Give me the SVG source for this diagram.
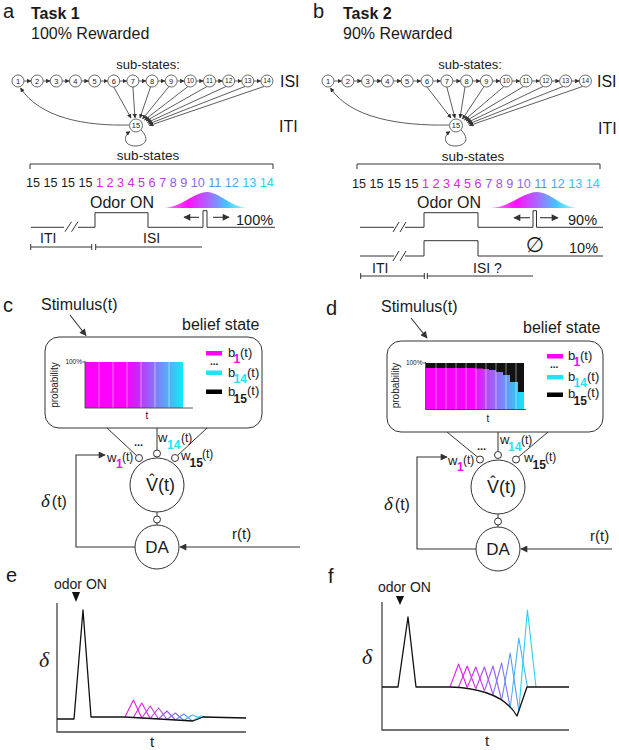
<svg xmlns="http://www.w3.org/2000/svg" width="619" height="750" viewBox="0 0 619 750">
<defs>
<style>
text{font-family:"Liberation Sans",Arial,Helvetica,sans-serif;fill:#1a1a1a}
.ln{stroke:#333;stroke-width:1;fill:none}
.ch{stroke:#333;stroke-width:0.8;fill:none;marker-end:url(#ms)}
.node{fill:#fff;stroke:#444;stroke-width:0.8}
.num{font-size:7.5px;text-anchor:middle}
.num2{font-size:6.6px;text-anchor:middle}
.big{stroke:#333;stroke-width:1.1;fill:none;marker-end:url(#ml)}
.nc{fill:#fff;stroke:#333;stroke-width:1}
.dl{font-family:"Liberation Serif","Times New Roman",serif;font-style:italic}
.crv{stroke:#111;stroke-width:1.3;fill:none;stroke-linejoin:round}
.zz{stroke-width:1.1;fill:none;stroke-linejoin:round}
.ax{stroke:#444;stroke-width:1.3;fill:none}
.sep{stroke:#fff;stroke-width:0.6;stroke-opacity:0.8}
</style>
<marker id="ms" viewBox="0 0 10 10" refX="9" refY="5" markerWidth="4.5" markerHeight="4.5" markerUnits="userSpaceOnUse" orient="auto"><path d="M0,0L10,5L0,10z" fill="#333"/></marker>
<marker id="ml" viewBox="0 0 10 10" refX="9" refY="5" markerWidth="8" markerHeight="7" markerUnits="userSpaceOnUse" orient="auto"><path d="M0,0L10,5L0,10z" fill="#333"/></marker>
<linearGradient id="gauss" x1="0" x2="1" y1="0" y2="0">
<stop offset="0" stop-color="#ff00ff" stop-opacity="0.5"/><stop offset="0.3" stop-color="#ff10ff"/><stop offset="0.55" stop-color="#a070ff"/><stop offset="0.75" stop-color="#40c8ff"/><stop offset="1" stop-color="#40e8ff" stop-opacity="0.4"/>
</linearGradient>
<linearGradient id="gc" gradientUnits="userSpaceOnUse" x1="85" x2="183" y1="0" y2="0">
<stop offset="0" stop-color="#ff00ff"/><stop offset="0.4" stop-color="#ff00ff"/><stop offset="0.52" stop-color="#d020f8"/><stop offset="0.66" stop-color="#9a60f8"/><stop offset="0.83" stop-color="#58a8f8"/><stop offset="1" stop-color="#10eaf8"/>
</linearGradient>
<linearGradient id="gd" gradientUnits="userSpaceOnUse" x1="426" x2="524" y1="0" y2="0">
<stop offset="0" stop-color="#ff00ff"/><stop offset="0.5" stop-color="#f608ff"/><stop offset="0.62" stop-color="#b848f8"/><stop offset="0.78" stop-color="#7888f8"/><stop offset="0.9" stop-color="#40b8f8"/><stop offset="1" stop-color="#10eaf8"/>
</linearGradient>
</defs>
<rect width="619" height="750" fill="#fff"/>

<!-- ============ PANEL A ============ -->
<g id="panel-a">
<text x="3" y="18" font-size="20">a</text>
<text x="31" y="19" font-size="16" font-weight="bold">Task 1</text>
<text x="31" y="39" font-size="16">100% Rewarded</text>
<text x="148" y="69" font-size="13" text-anchor="middle">sub-states:</text>
<text x="280" y="87" font-size="16">ISI</text>
<text x="279" y="132" font-size="16">ITI</text>
</g>

<g id="connectors-a">
<line class="ch" x1="24.2" y1="81" x2="30.95" y2="81"/>
<line class="ch" x1="43.35" y1="81" x2="50.1" y2="81"/>
<line class="ch" x1="62.5" y1="81" x2="69.25" y2="81"/>
<line class="ch" x1="81.65" y1="81" x2="88.4" y2="81"/>
<line class="ch" x1="100.8" y1="81" x2="107.55" y2="81"/>
<line class="ch" x1="119.95" y1="81" x2="126.7" y2="81"/>
<line class="ch" x1="139.1" y1="81" x2="145.85" y2="81"/>
<line class="ch" x1="158.25" y1="81" x2="165" y2="81"/>
<line class="ch" x1="177.4" y1="81" x2="184.15" y2="81"/>
<line class="ch" x1="196.55" y1="81" x2="203.3" y2="81"/>
<line class="ch" x1="215.7" y1="81" x2="222.45" y2="81"/>
<line class="ch" x1="234.85" y1="81" x2="241.6" y2="81"/>
<line class="ch" x1="254" y1="81" x2="260.75" y2="81"/>
<line class="ch" x1="113.75" y1="87" x2="131" y2="118"/>
<line class="ch" x1="132.9" y1="87" x2="135" y2="118"/>
<line class="ch" x1="150.5" y1="87" x2="140" y2="118"/>
<line class="ch" x1="169" y1="86.5" x2="142.5" y2="119"/>
<line class="ch" x1="188" y1="86.5" x2="144.5" y2="120"/>
<line class="ch" x1="207" y1="86.5" x2="146" y2="121"/>
<line class="ch" x1="226" y1="86.5" x2="147.5" y2="122.5"/>
<line class="ch" x1="245" y1="86.5" x2="148.5" y2="124"/>
<line class="ch" x1="264" y1="86.5" x2="149.5" y2="125.5"/>
<path class="ch" d="M129,125 C85,126 40,118 20.5,88"/>
<path class="ch" d="M141,130 C151,140 144,146 135,146 C125,146 122,137 130,131.5"/>
</g>

<g id="states-a">
<g id="a-s1"><circle class="node" cx="18" cy="81" r="6"/><text class="num" x="18" y="83.7" fill="#e01ee0">1</text></g>
<g id="a-s2"><circle class="node" cx="37.15" cy="81" r="6"/><text class="num" x="37.15" y="83.7" fill="#dc20e0">2</text></g>
<g id="a-s3"><circle class="node" cx="56.3" cy="81" r="6"/><text class="num" x="56.3" y="83.7" fill="#d824e0">3</text></g>
<g id="a-s4"><circle class="node" cx="75.45" cy="81" r="6"/><text class="num" x="75.45" y="83.7" fill="#d028e2">4</text></g>
<g id="a-s5"><circle class="node" cx="94.6" cy="81" r="6"/><text class="num" x="94.6" y="83.7" fill="#c82ee4">5</text></g>
<g id="a-s6"><circle class="node" cx="113.75" cy="81" r="6"/><text class="num" x="113.75" y="83.7" fill="#bc36e6">6</text></g>
<g id="a-s7"><circle class="node" cx="132.9" cy="81" r="6"/><text class="num" x="132.9" y="83.7" fill="#ac44e8">7</text></g>
<g id="a-s8"><circle class="node" cx="152.05" cy="81" r="6"/><text class="num" x="152.05" y="83.7" fill="#9c52ea">8</text></g>
<g id="a-s9"><circle class="node" cx="171.2" cy="81" r="6"/><text class="num" x="171.2" y="83.7" fill="#8c62ee">9</text></g>
<g id="a-s10"><circle class="node" cx="190.35" cy="81" r="6"/><text class="num2" x="190.35" y="83.4" fill="#7874f0">10</text></g>
<g id="a-s11"><circle class="node" cx="209.5" cy="81" r="6"/><text class="num2" x="209.5" y="83.4" fill="#628cf2">11</text></g>
<g id="a-s12"><circle class="node" cx="228.65" cy="81" r="6"/><text class="num2" x="228.65" y="83.4" fill="#4ca6f2">12</text></g>
<g id="a-s13"><circle class="node" cx="247.8" cy="81" r="6"/><text class="num2" x="247.8" y="83.4" fill="#36bef2">13</text></g>
<g id="a-s14"><circle class="node" cx="266.95" cy="81" r="6"/><text class="num2" x="266.95" y="83.4" fill="#22d4f0">14</text></g>
<g id="a-s15"><circle class="node" cx="136" cy="125.5" r="6.5"/><text class="num" x="136" y="128.2">15</text></g>
</g>

<g id="timeline-a">
<text x="148" y="160" font-size="13.5" text-anchor="middle">sub-states</text>
<path class="ln" d="M30,169 V164 H273 V169"/>
<text x="26" y="187" font-size="12.6">15 15 15 15 <tspan fill="#e01ee0">1</tspan> <tspan fill="#dc20e0">2</tspan> <tspan fill="#d824e0">3</tspan> <tspan fill="#d028e2">4</tspan> <tspan fill="#c82ee4">5</tspan> <tspan fill="#bc36e6">6</tspan> <tspan fill="#ac44e8">7</tspan> <tspan fill="#9c52ea">8</tspan> <tspan fill="#8c62ee">9</tspan> <tspan fill="#7874f0">10</tspan> <tspan fill="#628cf2">11</tspan> <tspan fill="#4ca6f2">12</tspan> <tspan fill="#36bef2">13</tspan> <tspan fill="#22d4f0">14</tspan></text>
<text x="90" y="208" font-size="16">Odor ON</text>
<path d="M163,208 C182,207.5 194,192 207,192 C220,192 230,207.5 249,208 Z" fill="url(#gauss)"/>
<path class="ln" d="M31,227.3 H64"/>
<path class="ln" d="M65,231.7 L71.5,221.7 M71.5,231.7 L78,221.7"/>
<path class="ln" d="M78,227.3 H95 V212.7 H148 V227.3 H203 V210.7 H207 V227.3 H275"/>
<line class="big" x1="199" y1="217.3" x2="184" y2="217.3"/>
<line class="big" x1="213" y1="217.3" x2="229" y2="217.3"/>
<text x="236" y="225" font-size="14.5">100%</text>
<text x="40" y="243" font-size="14">ITI</text>
<text x="143" y="243" font-size="14">ISI</text>
<path class="ln" d="M30.7,244 V250 M30.7,247 H91.7 M91.7,244 V250 M95.7,244 V250 M95.7,247 H202"/>
</g>

<!-- ============ PANEL B ============ -->
<g id="panel-b">
<text x="313" y="18" font-size="20">b</text>
<text x="343" y="19" font-size="16" font-weight="bold">Task 2</text>
<text x="343" y="39" font-size="16">90% Rewarded</text>
<text x="470" y="69" font-size="13" text-anchor="middle">sub-states:</text>
<text x="597" y="87" font-size="16">ISI</text>
<text x="598" y="134" font-size="16">ITI</text>
</g>

<g id="connectors-b">
<line class="ch" x1="334.2" y1="81" x2="341.6" y2="81"/>
<line class="ch" x1="354" y1="81" x2="361.4" y2="81"/>
<line class="ch" x1="373.8" y1="81" x2="381.2" y2="81"/>
<line class="ch" x1="393.6" y1="81" x2="401" y2="81"/>
<line class="ch" x1="413.4" y1="81" x2="420.8" y2="81"/>
<line class="ch" x1="433.2" y1="81" x2="440.6" y2="81"/>
<line class="ch" x1="453" y1="81" x2="460.4" y2="81"/>
<line class="ch" x1="472.8" y1="81" x2="480.2" y2="81"/>
<line class="ch" x1="492.6" y1="81" x2="500" y2="81"/>
<line class="ch" x1="512.4" y1="81" x2="519.8" y2="81"/>
<line class="ch" x1="532.2" y1="81" x2="539.6" y2="81"/>
<line class="ch" x1="552" y1="81" x2="559.4" y2="81"/>
<line class="ch" x1="571.8" y1="81" x2="579.2" y2="81"/>
<line class="ch" x1="427" y1="87" x2="451" y2="118"/>
<line class="ch" x1="446.8" y1="87" x2="455" y2="118"/>
<line class="ch" x1="465" y1="87" x2="460" y2="118"/>
<line class="ch" x1="484" y1="86.5" x2="462.5" y2="119"/>
<line class="ch" x1="504" y1="86.5" x2="464.5" y2="120"/>
<line class="ch" x1="523.5" y1="86.5" x2="466" y2="121"/>
<line class="ch" x1="543" y1="86.5" x2="467.5" y2="122.5"/>
<line class="ch" x1="563" y1="86.5" x2="468.5" y2="124"/>
<line class="ch" x1="582.5" y1="86.5" x2="469.5" y2="125.5"/>
<path class="ch" d="M449,125 C400,126 350,118 330.5,88"/>
<path class="ch" d="M461,130 C471,140 464,146 455,146 C445,146 442,137 450,131.5"/>
</g>

<g id="states-b">
<g id="b-s1"><circle class="node" cx="328" cy="81" r="6"/><text class="num" x="328" y="83.7" fill="#e01ee0">1</text></g>
<g id="b-s2"><circle class="node" cx="347.8" cy="81" r="6"/><text class="num" x="347.8" y="83.7" fill="#dc20e0">2</text></g>
<g id="b-s3"><circle class="node" cx="367.6" cy="81" r="6"/><text class="num" x="367.6" y="83.7" fill="#d824e0">3</text></g>
<g id="b-s4"><circle class="node" cx="387.4" cy="81" r="6"/><text class="num" x="387.4" y="83.7" fill="#d028e2">4</text></g>
<g id="b-s5"><circle class="node" cx="407.2" cy="81" r="6"/><text class="num" x="407.2" y="83.7" fill="#c82ee4">5</text></g>
<g id="b-s6"><circle class="node" cx="427" cy="81" r="6"/><text class="num" x="427" y="83.7" fill="#bc36e6">6</text></g>
<g id="b-s7"><circle class="node" cx="446.8" cy="81" r="6"/><text class="num" x="446.8" y="83.7" fill="#ac44e8">7</text></g>
<g id="b-s8"><circle class="node" cx="466.6" cy="81" r="6"/><text class="num" x="466.6" y="83.7" fill="#9c52ea">8</text></g>
<g id="b-s9"><circle class="node" cx="486.4" cy="81" r="6"/><text class="num" x="486.4" y="83.7" fill="#8c62ee">9</text></g>
<g id="b-s10"><circle class="node" cx="506.2" cy="81" r="6"/><text class="num2" x="506.2" y="83.4" fill="#7874f0">10</text></g>
<g id="b-s11"><circle class="node" cx="526" cy="81" r="6"/><text class="num2" x="526" y="83.4" fill="#628cf2">11</text></g>
<g id="b-s12"><circle class="node" cx="545.8" cy="81" r="6"/><text class="num2" x="545.8" y="83.4" fill="#4ca6f2">12</text></g>
<g id="b-s13"><circle class="node" cx="565.6" cy="81" r="6"/><text class="num2" x="565.6" y="83.4" fill="#36bef2">13</text></g>
<g id="b-s14"><circle class="node" cx="585.4" cy="81" r="6"/><text class="num2" x="585.4" y="83.4" fill="#22d4f0">14</text></g>
<g id="b-s15"><circle class="node" cx="456" cy="125.5" r="6.5"/><text class="num" x="456" y="128.2">15</text></g>
</g>

<g id="timeline-b">
<text x="473" y="161" font-size="13.5" text-anchor="middle">sub-states</text>
<path class="ln" d="M357,169 V164 H600 V169"/>
<text x="352" y="188" font-size="12.6">15 15 15 15 <tspan fill="#e01ee0">1</tspan> <tspan fill="#dc20e0">2</tspan> <tspan fill="#d824e0">3</tspan> <tspan fill="#d028e2">4</tspan> <tspan fill="#c82ee4">5</tspan> <tspan fill="#bc36e6">6</tspan> <tspan fill="#ac44e8">7</tspan> <tspan fill="#9c52ea">8</tspan> <tspan fill="#8c62ee">9</tspan> <tspan fill="#7874f0">10</tspan> <tspan fill="#628cf2">11</tspan> <tspan fill="#4ca6f2">12</tspan> <tspan fill="#36bef2">13</tspan> <tspan fill="#22d4f0">14</tspan></text>
<text x="417" y="208" font-size="16">Odor ON</text>
<path d="M490,208 C510,207.5 523,192 537,192 C551,192 560,207.5 579,208 Z" fill="url(#gauss)"/>
<path class="ln" d="M360,227.3 H394 M393,232 L399,222 M400,232 L406,222 M405,227.3 H424 V212.7 H478 V227.3 H533 V210.7 H536.5 V227.3 H603"/>
<line class="big" x1="530" y1="217.7" x2="514" y2="217.7"/>
<line class="big" x1="540" y1="217.7" x2="558" y2="217.7"/>
<text x="568" y="225" font-size="14.5">90%</text>
<path class="ln" d="M360,256 H394 M393,261 L399,251 M400,261 L406,251 M405,256 H424 V240.7 H478 V256 H603"/>
<text x="535" y="252" font-size="21" text-anchor="middle" style="font-family:'DejaVu Sans',sans-serif">∅</text>
<text x="569" y="253" font-size="14.5">10%</text>
<text x="372" y="273" font-size="14">ITI</text>
<text x="473" y="273" font-size="14">ISI ?</text>
<path class="ln" d="M360.7,273 V279 M360.7,276 H424.3 M424.3,273 V279 M427.3,273 V279 M427.3,276 H533"/>
</g>

<!-- ============ PANEL C ============ -->
<g id="panel-c">
<text x="3" y="312" font-size="20">c</text>
<text x="41" y="310" font-size="16">Stimulus(t)</text>
<text x="182" y="330" font-size="16">belief state</text>
</g>
<g id="c-belief">
<rect x="45" y="337" width="217" height="91" rx="14" fill="#fff" stroke="#333" stroke-width="1"/>
<rect x="85" y="362" width="98" height="46" fill="url(#gc)"/>
<path class="sep" d="M99,362V408M113,362V408M127,362V408M141,362V408M155,362V408M169,362V408"/>
<path stroke="#444" stroke-width="0.9" fill="none" d="M85,361 V408 H193 M82.5,362 H85"/>
<text x="82" y="364.3" font-size="6.5" text-anchor="end">100%</text>
<text transform="translate(57.5,385) rotate(-90)" font-size="10" text-anchor="middle">probability</text>
<text x="147" y="419" font-size="10" text-anchor="middle">t</text>
<rect x="206" y="351" width="16" height="4.5" fill="#ff00ff"/>
<text x="228" y="357" font-size="13">b<tspan x="233.5" y="363" font-size="12" font-weight="bold" fill="#ff00ff">1</tspan><tspan x="240" y="357">(t)</tspan></text>
<text x="210" y="365" font-size="10" font-weight="bold">...</text>
<rect x="206" y="370.5" width="16" height="4.5" fill="#1ee4f8"/>
<text x="228" y="377" font-size="13">b<tspan x="233.5" y="383" font-size="12" font-weight="bold" fill="#1ee4f8">14</tspan><tspan x="247" y="377">(t)</tspan></text>
<rect x="206" y="389.5" width="16" height="4.5" fill="#000"/>
<text x="228" y="396" font-size="13">b<tspan x="233.5" y="402.5" font-size="12" font-weight="bold">15</tspan><tspan x="247" y="395">(t)</tspan></text>
</g>
<g id="c-connectors">
<line class="big" x1="70" y1="315" x2="86" y2="335.5"/>
<line class="ln" x1="107" y1="428" x2="136.5" y2="455.5"/>
<line class="ln" x1="157" y1="428" x2="157" y2="450"/>
<line class="ln" x1="207" y1="428" x2="177.5" y2="455.5"/>
<line class="ln" x1="157" y1="512" x2="157" y2="516"/>
<line class="ln" x1="157" y1="523" x2="157" y2="525"/>
<path class="big" d="M135,547 H76 V455 H105"/>
<line class="big" x1="300" y1="547" x2="180" y2="547"/>
</g>
<g id="c-weights">
<circle class="nc" cx="139" cy="458" r="3.5"/>
<circle class="nc" cx="157" cy="453.5" r="3.5"/>
<circle class="nc" cx="175" cy="458" r="3.5"/>
<text x="134" y="446" font-size="11" font-weight="bold">...</text>
<text x="107" y="462" font-size="13">w<tspan x="116" y="468" font-size="12" font-weight="bold" fill="#ff00ff">1</tspan><tspan x="122" y="461" font-size="12">(t)</tspan></text>
<text x="158" y="442" font-size="13">w<tspan x="167" y="449" font-size="12" font-weight="bold" fill="#1ee4f8">14</tspan><tspan x="181" y="442" font-size="12">(t)</tspan></text>
<text x="181" y="460" font-size="13">w<tspan x="189.5" y="467" font-size="12" font-weight="bold">15</tspan><tspan x="202" y="458" font-size="12">(t)</tspan></text>
</g>
<g id="c-value">
<circle class="nc" cx="157" cy="485" r="27"/>
<text font-size="18"><tspan x="146" y="491">V(t)</tspan><tspan x="152" y="485.5" font-size="16" text-anchor="middle">ˆ</tspan></text>
<circle class="nc" cx="157" cy="519.5" r="3.5"/>
</g>
<g id="c-da">
<circle class="nc" cx="157" cy="547" r="22"/>
<text x="157" y="553" font-size="17" text-anchor="middle">DA</text>
</g>
<text x="41" y="507"><tspan class="dl" font-size="19">δ</tspan><tspan font-size="16" dx="2">(t)</tspan></text>
<text x="232" y="539" font-size="15">r(t)</text>

<!-- ============ PANEL D ============ -->
<g id="panel-d">
<text x="326" y="315" font-size="20">d</text>
<text x="381" y="312" font-size="16">Stimulus(t)</text>
<text x="523" y="333" font-size="16">belief state</text>
</g>
<g id="d-belief">
<rect x="387" y="341" width="216" height="91" rx="14" fill="#fff" stroke="#333" stroke-width="1"/>
<rect x="426" y="363" width="98" height="46.5" fill="#111"/>
<path d="M426,409.5 V368 H475 V368.5 H483 V369 H489 V370 H496 V372 H503 V375 H510 V382 H518 V392 H524 V409.5 Z" fill="url(#gd)"/>
<path class="sep" d="M436,363V409.5M446,363V409.5M456,363V409.5M466,363V409.5M476,363V409.5M486,363V409.5M496,363V409.5M506,363V409.5M516,363V409.5"/>
<path stroke="#444" stroke-width="0.9" fill="none" d="M425.5,362 V409.5 H526 M423,363 H425.5"/>
<text x="422.5" y="365.3" font-size="6.5" text-anchor="end">100%</text>
<text transform="translate(399,385.5) rotate(-90)" font-size="10" text-anchor="middle">probability</text>
<text x="488" y="422" font-size="10" text-anchor="middle">t</text>
<rect x="547" y="354" width="16" height="4.5" fill="#ff00ff"/>
<text x="568" y="360" font-size="13">b<tspan x="573.5" y="366" font-size="12" font-weight="bold" fill="#ff00ff">1</tspan><tspan x="580" y="360">(t)</tspan></text>
<text x="550" y="368" font-size="10" font-weight="bold">...</text>
<rect x="547" y="375" width="16" height="4.5" fill="#1ee4f8"/>
<text x="568" y="381" font-size="13">b<tspan x="573.5" y="387" font-size="12" font-weight="bold" fill="#1ee4f8">14</tspan><tspan x="587" y="381">(t)</tspan></text>
<rect x="547" y="392.5" width="16" height="4.5" fill="#000"/>
<text x="568" y="398" font-size="13">b<tspan x="573.5" y="404.5" font-size="12" font-weight="bold">15</tspan><tspan x="587" y="397">(t)</tspan></text>
</g>
<g id="d-connectors">
<line class="big" x1="411" y1="318" x2="427" y2="338"/>
<line class="ln" x1="447" y1="432" x2="477.5" y2="457"/>
<line class="ln" x1="498" y1="432" x2="498" y2="451.5"/>
<line class="ln" x1="548" y1="432" x2="518.5" y2="457"/>
<line class="ln" x1="498" y1="514" x2="498" y2="518"/>
<line class="ln" x1="498" y1="525" x2="498" y2="527"/>
<path class="big" d="M476,549 H417 V457 H447"/>
<line class="big" x1="612" y1="549" x2="521" y2="549"/>
</g>
<g id="d-weights">
<circle class="nc" cx="480" cy="459.5" r="3.5"/>
<circle class="nc" cx="498" cy="455" r="3.5"/>
<circle class="nc" cx="516" cy="459.5" r="3.5"/>
<text x="477" y="450" font-size="11" font-weight="bold">...</text>
<text x="448" y="465" font-size="13">w<tspan x="457" y="471" font-size="12" font-weight="bold" fill="#ff00ff">1</tspan><tspan x="463" y="464" font-size="12">(t)</tspan></text>
<text x="500" y="444" font-size="13">w<tspan x="508" y="450.5" font-size="12" font-weight="bold" fill="#1ee4f8">14</tspan><tspan x="521" y="444" font-size="12">(t)</tspan></text>
<text x="524" y="462" font-size="13">w<tspan x="532.5" y="469" font-size="12" font-weight="bold">15</tspan><tspan x="545" y="461" font-size="12">(t)</tspan></text>
</g>
<g id="d-value">
<circle class="nc" cx="498" cy="487" r="27"/>
<text font-size="18"><tspan x="487" y="493">V(t)</tspan><tspan x="493" y="487.5" font-size="16" text-anchor="middle">ˆ</tspan></text>
<circle class="nc" cx="498" cy="521.5" r="3.5"/>
</g>
<g id="d-da">
<circle class="nc" cx="498" cy="549" r="22"/>
<text x="498" y="555" font-size="17" text-anchor="middle">DA</text>
</g>
<text x="384" y="510"><tspan class="dl" font-size="19">δ</tspan><tspan font-size="16" dx="2">(t)</tspan></text>
<text x="590" y="541" font-size="15">r(t)</text>

<!-- ============ PANEL E ============ -->
<g id="panel-e">
<text x="6" y="582" font-size="20">e</text>
<text x="54" y="589" font-size="14">odor ON</text>
<polygon points="72,592 80,592 76,602" fill="#111"/>
<path class="ax" d="M57,603 V732 H246"/>
<text x="39" y="667" font-size="22" class="dl">δ</text>
<text x="152" y="747" font-size="15" text-anchor="middle">t</text>
<polyline class="zz" stroke="#e61ee6" points="125,717 133.4,700 141.8,718"/>
<polyline class="zz" stroke="#d828e8" points="133.4,717.5 141.8,703 150.2,718.5"/>
<polyline class="zz" stroke="#c834ea" points="141.8,718 150.2,706 158.6,719"/>
<polyline class="zz" stroke="#b044ec" points="150.2,718.5 158.6,708 167,719.5"/>
<polyline class="zz" stroke="#985aee" points="158.6,719 167,711 175.4,720"/>
<polyline class="zz" stroke="#7e76f2" points="167,719.5 175.4,713 183.8,720.5"/>
<polyline class="zz" stroke="#6294f4" points="175.4,720 183.8,714 192.2,721"/>
<polyline class="zz" stroke="#44b4f4" points="183.8,720.5 192.2,715 200.6,718"/>
<polyline class="zz" stroke="#28d2f0" points="192.2,721 200.6,716 209,717.5"/>
<path class="crv" d="M57,719 H74 L83,610 L91,717 L125,717 L193,721 L203,717 L246,718"/>
</g>

<!-- ============ PANEL F ============ -->
<g id="panel-f">
<text x="328" y="583" font-size="20">f</text>
<text x="378" y="592" font-size="14">odor ON</text>
<polygon points="396,596 404,596 400,605" fill="#111"/>
<path class="ax" d="M382,602 V730 H569"/>
<text x="362" y="664" font-size="22" class="dl">δ</text>
<text x="487" y="746" font-size="15" text-anchor="middle">t</text>
<polyline class="zz" stroke="#e61ee6" points="450,687 458.6,664 467.2,687.5"/>
<polyline class="zz" stroke="#d828e8" points="458.6,687 467.2,666 475.8,688.7"/>
<polyline class="zz" stroke="#c834ea" points="467.2,687.5 475.8,667 484.4,690.9"/>
<polyline class="zz" stroke="#b044ec" points="475.8,688.7 484.4,667 493,694.7"/>
<polyline class="zz" stroke="#985aee" points="484.4,690.9 493,666 501.6,700.2"/>
<polyline class="zz" stroke="#7e76f2" points="493,694.7 501.6,663 510.2,708"/>
<polyline class="zz" stroke="#6294f4" points="501.6,700.2 510.2,653 518.8,710.8"/>
<polyline class="zz" stroke="#44b4f4" points="510.2,708 518.8,638 527.4,687"/>
<polyline class="zz" stroke="#28d2f0" points="518.8,710.8 527.4,610 536,687"/>
<path class="crv" d="M382,687 H398 L408,617 L416,687 H450 C480,688 505,695 517,716 L527,687 H569"/>
</g>
</svg>
